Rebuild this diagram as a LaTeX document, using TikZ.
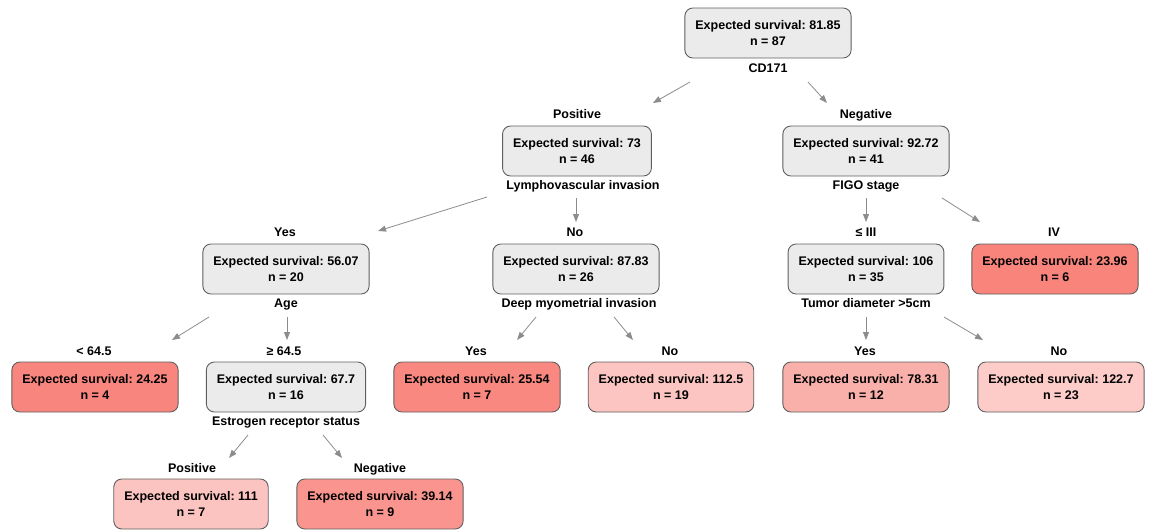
\documentclass[tikz,border=0pt]{standalone}
\usepackage{fontspec}
\setmainfont{Liberation Sans}
\usetikzlibrary{arrows.meta}
\frenchspacing

\definecolor{boxgray}{HTML}{EBEBEB}
\definecolor{edgegray}{HTML}{5F5F5F}
\definecolor{arrgray}{HTML}{8C8C8C}
\definecolor{red1}{HTML}{F8847C}
\definecolor{red2}{HTML}{F8867E}
\definecolor{red3}{HTML}{F88880}
\definecolor{red4}{HTML}{F9958E}
\definecolor{red5}{HTML}{FAB0AA}
\definecolor{red6}{HTML}{FCC4C0}
\definecolor{red7}{HTML}{FCC5C1}
\definecolor{red8}{HTML}{FDCCC8}

\tikzset{
	box/.style={draw=edgegray, line width=0.9pt, fill=boxgray, rounded corners=8pt,
		align=center, inner xsep=10.5pt, inner ysep=0pt, minimum height=50pt,
		font=\fontsize{12.5}{16}\selectfont\bfseries},
	lab/.style={anchor=base, inner sep=0pt, font=\fontsize{12.5}{16}\selectfont\bfseries},
	arr/.style={draw=arrgray, line width=0.8pt, -{Triangle[length=8pt,width=6pt]}}
}

\begin{document}
\begin{tikzpicture}[x=1pt,y=-1pt]
	\useasboundingbox (0,0) rectangle (1149,530);
	% boxes
	\node[box] (root) at (768,33) {Expected survival: 81.85\\n = 87};
	\node[box] (pos) at (577,151) {Expected survival: 73\\n = 46};
	\node[box] (neg) at (866,151) {Expected survival: 92.72\\n = 41};
	\node[box] (lvY) at (286,269) {Expected survival: 56.07\\n = 20};
	\node[box] (lvN) at (576,269) {Expected survival: 87.83\\n = 26};
	\node[box] (fgIII) at (866,269) {Expected survival: 106\\n = 35};
	\node[box, fill=red1] (fgIV) at (1055,269) {Expected survival: 23.96\\n = 6};
	\node[box, fill=red2] (agL) at (95,387) {Expected survival: 24.25\\n = 4};
	\node[box] (agH) at (286,387) {Expected survival: 67.7\\n = 16};
	\node[box, fill=red3] (dmY) at (477,387) {Expected survival: 25.54\\n = 7};
	\node[box, fill=red7] (dmN) at (671,387) {Expected survival: 112.5\\n = 19};
	\node[box, fill=red5] (tdY) at (866,387) {Expected survival: 78.31\\n = 12};
	\node[box, fill=red8] (tdN) at (1061,387) {Expected survival: 122.7\\n = 23};
	\node[box, fill=red6] (erP) at (191,504) {Expected survival: 111\\n = 7};
	\node[box, fill=red4] (erN) at (380,504) {Expected survival: 39.14\\n = 9};
	% split variables
	\node[lab] (sRoot) at (768,72.5) {CD171};
	\node[lab] (sPos) at (583,189.5) {Lymphovascular invasion};
	\node[lab] (sNeg) at (866,189.5) {FIGO stage};
	\node[lab] (sLvY) at (286,307.5) {Age};
	\node[lab] (sLvN) at (579,307.5) {Deep myometrial invasion};
	\node[lab] (sFg) at (866,307.5) {Tumor diameter >5cm};
	\node[lab] (sAg) at (286,425.5) {Estrogen receptor status};
	% branch labels
	\node[lab] (bPos) at (577,118.5) {Positive};
	\node[lab] (bNeg) at (866,118.5) {Negative};
	\node[lab] (bLvY) at (285,236.5) {Yes};
	\node[lab] (bLvN) at (575,236.5) {No};
	\node[lab] (bFgIII) at (866,236.5) {≤ III};
	\node[lab] (bFgIV) at (1054,236.5) {IV};
	\node[lab] (bAgL) at (94,355.5) {< 64.5};
	\node[lab] (bAgH) at (284,355.5) {≥ 64.5};
	\node[lab] (bDmY) at (476,355.5) {Yes};
	\node[lab] (bDmN) at (670,355.5) {No};
	\node[lab] (bTdY) at (865,355.5) {Yes};
	\node[lab] (bTdN) at (1059,355.5) {No};
	\node[lab] (bErP) at (192,472.5) {Positive};
	\node[lab] (bErN) at (380,472.5) {Negative};
	% arrow ends
	\coordinate (a1) at (690,82);   \coordinate (b1) at (653,103);
	\coordinate (a2) at (808,82);   \coordinate (b2) at (827,103);
	\coordinate (a3) at (487,197);  \coordinate (b3) at (378,231);
	\coordinate (a4) at (576,198);  \coordinate (b4) at (576,222);
	\coordinate (a5) at (866,198);  \coordinate (b5) at (866,222);
	\coordinate (a6) at (942,198);  \coordinate (b6) at (980,222);
	\coordinate (a7) at (209,317);  \coordinate (b7) at (172,340);
	\coordinate (a8) at (287,317);  \coordinate (b8) at (287,340);
	\coordinate (a9) at (536,317);  \coordinate (b9) at (517,340);
	\coordinate (a10) at (614,317); \coordinate (b10) at (633,340);
	\coordinate (a11) at (866,317); \coordinate (b11) at (866,340);
	\coordinate (a12) at (944,317); \coordinate (b12) at (983,340);
	\coordinate (a13) at (248,435); \coordinate (b13) at (229,458);
	\coordinate (a14) at (323,435); \coordinate (b14) at (342,458);
	\foreach \i in {1,...,14}
		\draw[arr] (a\i) -- (b\i);
\end{tikzpicture}
\end{document}
